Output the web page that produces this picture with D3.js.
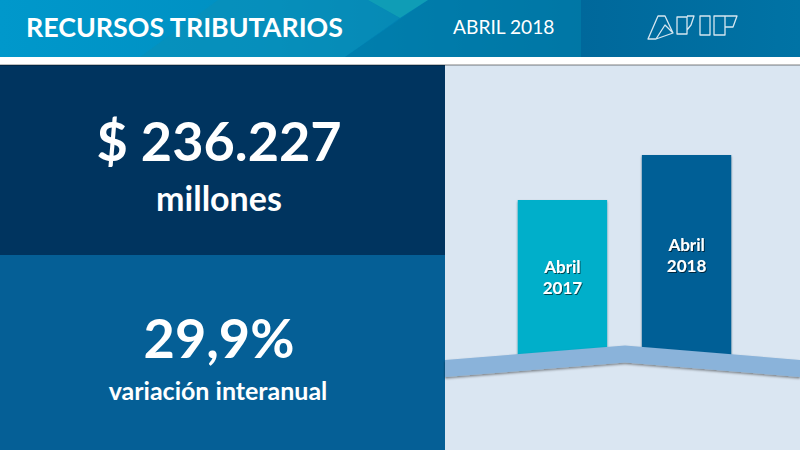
<!DOCTYPE html>
<meta charset="utf-8">
<style>
body { margin: 0; background: #fff; }
text { font-family: Lato, "Open Sans", sans-serif; fill: #fff; }
.big { font-weight: 700; text-anchor: middle; }
.barlabel { font-weight: 700; font-size: 17px; text-anchor: middle; filter: url(#txtshadow); }
.logo path { fill: none; stroke: #d5e6f0; stroke-width: 1.3px; stroke-linejoin: round; }
</style>
<svg width="800" height="450"></svg>
<script src="https://d3js.org/d3.v7.min.js"></script>
<script>

// values
var years = ["Abril 2017", "Abril 2018"];
var recursos = [181853, 236227];
var barColors = ["#00afca", "#055f96"];

var svg = d3.select("svg"),
    width = +svg.attr("width"),
    height = +svg.attr("height");

var defs = svg.append("defs");

var grad = defs.append("linearGradient").attr("id", "head");
grad.append("stop").attr("offset", "0").attr("stop-color", "#0098cb");
grad.append("stop").attr("offset", "0.45").attr("stop-color", "#0090c2");
grad.append("stop").attr("offset", "1").attr("stop-color", "#006f9f");

var grad2 = defs.append("linearGradient").attr("id", "head2");
grad2.append("stop").attr("offset", "0").attr("stop-color", "#00689b");
grad2.append("stop").attr("offset", "1").attr("stop-color", "#0073a5");

var shadow = defs.append("filter").attr("id", "txtshadow")
    .attr("x", "-20%").attr("y", "-20%").attr("width", "140%").attr("height", "140%");
shadow.append("feDropShadow").attr("dx", 1).attr("dy", 1).attr("stdDeviation", 0.7)
    .attr("flood-color", "#000").attr("flood-opacity", 0.6);

var soft = defs.append("filter").attr("id", "soft")
    .attr("x", "-10%").attr("y", "-10%").attr("width", "120%").attr("height", "130%");
soft.append("feDropShadow").attr("dx", 0).attr("dy", 1.5).attr("stdDeviation", 1)
    .attr("flood-color", "#000").attr("flood-opacity", 0.45);

// header band
svg.append("rect").attr("width", width).attr("height", height).attr("fill", "#fff");
svg.append("rect").attr("width", 581).attr("height", 57).attr("fill", "url(#head)");
svg.append("polygon").attr("points", "140,57 218,0 368,0 400,18 345,57").attr("fill", "#0a8fb8").attr("opacity", 0.6);
svg.append("polygon").attr("points", "345,57 428,0 581,0 581,57").attr("fill", "#007ba8").attr("opacity", 0.7);
svg.append("polygon").attr("points", "368,0 428,0 400,18").attr("fill", "#0f9db6");
svg.append("rect").attr("x", 581).attr("width", 219).attr("height", 57).attr("fill", "url(#head2)");

svg.append("text").attr("x", 26).attr("y", 37).attr("font-size", 26.8).attr("font-weight", 700)
    .text("RECURSOS TRIBUTARIOS");
svg.append("text").attr("x", 453).attr("y", 34).attr("font-size", 19.2)
    .text("ABRIL 2018");

// logo
var logo = svg.append("g").attr("class", "logo");
["M648,39 L658,16 L665,16 L673,33 L656,39 Z M656,39 L665,25 L673,33",
 "M677,17 H687 V34 H677 Z M687,16 H694 L691,25 L687,30",
 "M700,16 H710 V35 H700 Z",
 "M714,16 H725 V35 H714 Z M725,16 H737 L733,27 H725"
].forEach(function(d) { logo.append("path").attr("d", d); });

// panels
svg.append("rect").attr("y", 65).attr("width", 445).attr("height", 190).attr("fill", "#00345f");
svg.append("rect").attr("y", 255).attr("width", 445).attr("height", 195).attr("fill", "#055f96");
svg.append("rect").attr("x", 445).attr("y", 65).attr("width", 355).attr("height", 385).attr("fill", "#dae6f2");
svg.append("rect").attr("y", 64).attr("width", width).attr("height", 2).attr("fill", "#000").attr("opacity", 0.25);

svg.append("text").attr("class", "big").attr("x", 219).attr("y", 161).attr("font-size", 54).text("$ 236.227");
svg.append("text").attr("class", "big").attr("x", 219).attr("y", 211).attr("font-size", 34).text("millones");
svg.append("text").attr("class", "big").attr("x", 219).attr("y", 358).attr("font-size", 54).text("29,9%");
svg.append("text").attr("class", "big").attr("x", 218).attr("y", 400).attr("font-size", 25).text("variación interanual");

// bars
var x = d3.scaleBand().domain(years).range([501, 748]).paddingInner(0.28).paddingOuter(0.135);
var y = d3.scaleLinear().domain([0, 236227]).range([350.5, 155]);

svg.selectAll(".bar").data(recursos).enter().append("rect")
    .attr("class", "bar")
    .attr("x", function(d, i) { return x(years[i]); })
    .attr("y", function(d) { return y(d); })
    .attr("width", x.bandwidth())
    .attr("height", function(d) { return y(0) - y(d) + 6; })
    .attr("fill", function(d, i) { return barColors[i]; })
    .attr("filter", "url(#soft)");

// bar labels, two lines, centred on the bar
years.forEach(function(name, i) {
  var parts = name.split(" ");
  var cx = x(name) + x.bandwidth() / 2;
  var top = (y(recursos[i]) + y(0)) / 2 - 2;
  parts.forEach(function(p, j) {
    svg.append("text").attr("class", "barlabel")
      .attr("x", cx).attr("y", top + j * 21).text(p);
  });
});

// floor under the bars
svg.append("polygon")
    .attr("points", "445,360 625,345.5 800,360 800,377 625,362.5 445,377")
    .attr("fill", "#8ab3da")
    .attr("filter", "url(#soft)");

</script>
